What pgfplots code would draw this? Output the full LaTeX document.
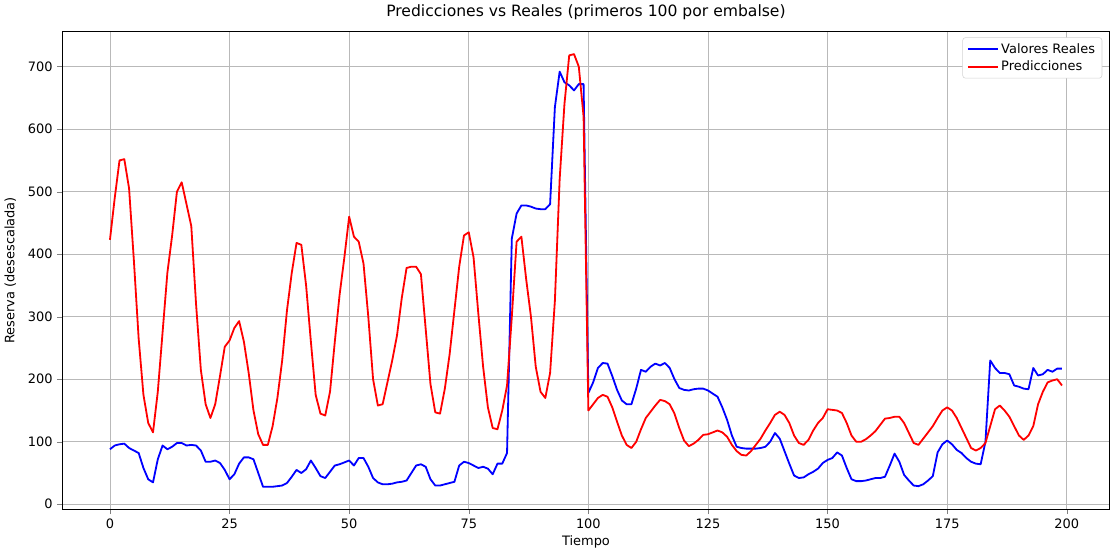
\documentclass[border=0pt]{standalone}
\usepackage{pgfplots}
\usepackage{pgfplotstable}
\pgfplotsset{compat=1.18}
\usepackage{fontspec}
\setmainfont{DejaVu Sans}
\pgfplotstableread{
t real pred
0 88 423
1 94 490
2 96 550
3 97 552
4 90 505
5 86 390
6 82 265
7 58 175
8 40 130
9 35 115
10 72 180
11 94 275
12 88 370
13 92 430
14 98 500
15 98 515
16 94 480
17 95 445
18 94 320
19 86 215
20 68 160
21 68 138
22 70 160
23 66 205
24 55 252
25 40 262
26 48 282
27 65 293
28 75 260
29 75 210
30 72 150
31 50 112
32 28 95
33 28 95
34 28 125
35 29 170
36 30 230
37 34 310
38 44 370
39 55 418
40 50 415
41 56 350
42 70 260
43 58 175
44 45 145
45 42 142
46 52 180
47 62 260
48 64 335
49 67 395
50 70 460
51 62 428
52 74 420
53 74 385
54 60 300
55 42 200
56 35 158
57 32 160
58 32 195
59 33 230
60 35 270
61 36 330
62 38 378
63 50 380
64 62 380
65 64 368
66 60 280
67 40 192
68 30 147
69 30 145
70 32 185
71 34 240
72 36 310
73 62 380
74 68 430
75 66 435
76 62 395
77 58 305
78 60 220
79 57 155
80 48 122
81 65 120
82 65 150
83 82 190
84 425 300
85 465 420
86 478 428
87 478 360
88 476 300
89 473 220
90 472 180
91 472 170
92 480 210
93 635 325
94 692 520
95 675 640
96 670 718
97 662 720
98 672 700
99 672 620
100 178 150
101 195 160
102 218 170
103 226 175
104 225 172
105 205 155
106 183 132
107 166 110
108 160 95
109 160 90
110 185 100
111 215 120
112 212 138
113 220 148
114 225 158
115 222 167
116 226 165
117 218 160
118 200 145
119 186 122
120 183 102
121 182 93
122 184 97
123 185 103
124 185 111
125 182 112
126 177 115
127 172 118
128 155 115
129 135 108
130 110 95
131 92 85
132 90 79
133 89 78
134 89 85
135 89 95
136 90 105
137 92 118
138 100 130
139 114 143
140 105 148
141 85 143
142 65 130
143 46 110
144 42 98
145 43 95
146 48 103
147 52 118
148 57 130
149 66 138
150 71 152
151 74 151
152 83 150
153 78 146
154 58 130
155 40 110
156 37 100
157 37 100
158 38 104
159 40 110
160 42 117
161 42 127
162 44 137
163 62 138
164 81 140
165 68 140
166 47 130
167 38 114
168 30 98
169 29 95
170 32 105
171 38 115
172 45 125
173 83 138
174 96 150
175 102 155
176 96 150
177 87 138
178 82 122
179 74 106
180 68 90
181 65 86
182 64 90
183 100 98
184 230 125
185 218 152
186 210 158
187 210 150
188 208 140
189 190 125
190 188 110
191 185 103
192 184 110
193 218 125
194 206 160
195 208 180
196 215 195
197 212 198
198 217 200
199 217 190
}\data
\begin{document}
\begin{tikzpicture}
\begin{axis}[
  scale only axis,
  width=752pt, height=343pt,
  xmin=-9.95, xmax=208.95, ymin=-8, ymax=756,
  xtick={0,25,...,200}, ytick={0,100,...,700},
  grid=major, grid style={gray!55, line width=0.6pt},
  tick align=outside, tick pos=left,
  major tick length=3.5pt,
  tick label style={font=\fontsize{9.3}{11}\selectfont},
  /pgf/number format/assume math mode=true,
  title={Predicciones vs Reales (primeros 100 por embalse)},
  title style={font=\fontsize{11.2}{13}\selectfont, yshift=-1pt},
  xlabel={Tiempo}, ylabel={Reserva (desescalada)},
  label style={font=\fontsize{9.3}{11}\selectfont},
  xlabel style={yshift=2pt}, ylabel style={yshift=1.5pt},
  legend cell align=left,
  legend style={at={(0.993,0.988)}, anchor=north east, font=\fontsize{9.3}{11}\selectfont, draw=gray!35, rounded corners=2pt, inner xsep=3pt, inner ysep=2pt, row sep=0pt},
  legend image post style={xscale=1.25},
]
\addplot[blue, line width=1.3pt, line join=round] table[x=t, y=real] {\data};
\addlegendentry{Valores Reales}
\addplot[red, line width=1.3pt, line join=round] table[x=t, y=pred] {\data};
\addlegendentry{Predicciones}
\end{axis}
\end{tikzpicture}
\end{document}
